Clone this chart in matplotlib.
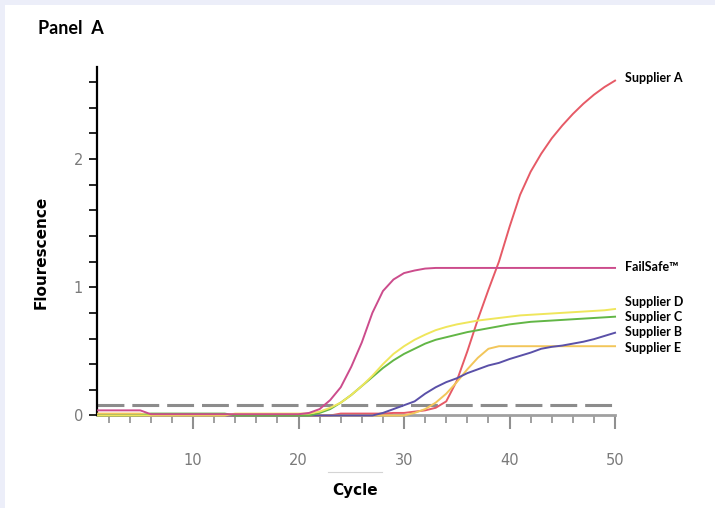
import matplotlib
matplotlib.use("Agg")
import matplotlib.pyplot as plt
from matplotlib.ticker import MultipleLocator
from matplotlib.lines import Line2D
from matplotlib.patches import Rectangle

# PCR cycle number
cycles = list(range(1, 51))

# fluorescence per cycle
failsafe = [0.04, 0.04, 0.04, 0.04, 0.04, 0.01, 0.01, 0.01, 0.01, 0.01,
            0.01, 0.01, 0.01, 0.01, 0.01, 0.01, 0.01, 0.01, 0.01, 0.01,
            0.02, 0.05, 0.12, 0.22, 0.38, 0.57, 0.80, 0.97, 1.06, 1.11,
            1.13, 1.145, 1.15, 1.15, 1.15, 1.15, 1.15, 1.15, 1.15, 1.15,
            1.15, 1.15, 1.15, 1.15, 1.15, 1.15, 1.15, 1.15, 1.15, 1.15]
supplier_a = [0, 0, 0, 0, 0, 0, 0, 0, 0, 0,
              0, 0, 0, 0, 0, 0, 0, 0, 0, 0,
              0, 0, 0, 0.015, 0.015, 0.015, 0.015, 0.015, 0.02, 0.02,
              0.03, 0.04, 0.06, 0.11, 0.27, 0.50, 0.75, 0.98, 1.20, 1.47,
              1.72, 1.90, 2.04, 2.16, 2.26, 2.35, 2.43, 2.50, 2.56, 2.61]
supplier_b = [0, 0, 0, 0, 0, 0, 0, 0, 0, 0,
              0, 0, 0, 0, 0, 0, 0, 0, 0, 0,
              0, 0, 0, 0, 0, 0, 0, 0.02, 0.05, 0.08,
              0.11, 0.17, 0.22, 0.26, 0.29, 0.33, 0.36, 0.39, 0.41, 0.44,
              0.465, 0.49, 0.52, 0.535, 0.545, 0.56, 0.575, 0.595, 0.62, 0.645]
supplier_c = [0, 0, 0, 0, 0, 0.015, 0.015, 0.015, 0.015, 0.015,
              0.015, 0.015, 0.015, 0, 0, 0, 0, 0, 0, 0,
              0, 0.02, 0.05, 0.10, 0.16, 0.23, 0.30, 0.37, 0.43, 0.48,
              0.52, 0.56, 0.59, 0.61, 0.63, 0.65, 0.665, 0.68, 0.695, 0.71,
              0.72, 0.73, 0.735, 0.74, 0.745, 0.75, 0.755, 0.76, 0.765, 0.77]
supplier_d = [0, 0, 0, 0, 0, 0, 0, 0, 0, 0,
              0, 0, 0, 0.015, 0.015, 0.015, 0.015, 0.015, 0.015, 0.015,
              0.015, 0.03, 0.06, 0.10, 0.16, 0.23, 0.31, 0.40, 0.48, 0.54,
              0.59, 0.63, 0.665, 0.69, 0.71, 0.725, 0.74, 0.75, 0.76, 0.77,
              0.78, 0.785, 0.79, 0.795, 0.80, 0.805, 0.81, 0.815, 0.82, 0.83]
supplier_e = [0.015, 0.015, 0.015, 0.015, 0.015, 0, 0, 0, 0, 0,
              0, 0, 0, 0, 0, 0, 0, 0, 0, 0,
              0, 0, 0, 0, 0, 0, 0, 0, 0, 0,
              0.02, 0.05, 0.10, 0.17, 0.26, 0.36, 0.45, 0.52, 0.54, 0.54,
              0.54, 0.54, 0.54, 0.54, 0.54, 0.54, 0.54, 0.54, 0.54, 0.54]
threshold = 0.085

fig = plt.figure(figsize=(7.15, 5.08), dpi=100)
fig.patch.set_facecolor("#eceef9")
fig.add_artist(Rectangle((5 / 715, 0), 1, 503 / 508, transform=fig.transFigure,
                         facecolor="white", edgecolor="none", zorder=0))

ax = fig.add_axes([0.1357, 0.1821, 0.7245, 0.686])
ax.set_facecolor("none")
ax.set_xlim(0.9, 50)
ax.set_ylim(0, 2.716)

ax.axhline(threshold, color="#8c8c8c", lw=2.2, dashes=(8.8, 2.6), zorder=1)

kw = dict(lw=1.4, clip_on=False, zorder=3)
ax.plot(cycles, supplier_a, color="#e65a66", **kw)
ax.plot(cycles, supplier_e, color="#f2c65a", **kw)
ax.plot(cycles, supplier_b, color="#5a50a8", **kw)
ax.plot(cycles, supplier_c, color="#62b646", **kw)
ax.plot(cycles, supplier_d, color="#efe65c", **kw)
ax.plot(cycles, failsafe, color="#cc4c8c", **kw)

for s in ["top", "right"]:
    ax.spines[s].set_visible(False)
ax.spines["left"].set_color("black")
ax.spines["left"].set_linewidth(1.6)
ax.spines["bottom"].set_color("#a0a0a0")
ax.spines["bottom"].set_linewidth(2)
ax.spines["bottom"].set_zorder(2)

ax.xaxis.set_major_locator(MultipleLocator(10))
ax.xaxis.set_minor_locator(MultipleLocator(2))
ax.yaxis.set_major_locator(MultipleLocator(1))
ax.yaxis.set_minor_locator(MultipleLocator(0.2))
ax.tick_params(axis="x", which="major", length=10, width=1.5, color="#909090",
               pad=17, labelsize=10.5, labelcolor="#7a7a7a")
ax.tick_params(axis="x", which="minor", length=6, width=1.2, color="#909090")
ax.tick_params(axis="y", which="both", length=6, width=1.2, color="black",
               pad=4, labelsize=10.5, labelcolor="#7a7a7a")

lab = dict(fontsize=9, fontweight="bold", family=["Lato", "DejaVu Sans"],
           va="center", ha="left", clip_on=False)
ax.text(50.95, 2.63, "Supplier A", **lab)
ax.text(50.95, 1.157, "FailSafe™", **lab)
ax.text(50.95, 0.885, "Supplier D", **lab)
ax.text(50.95, 0.768, "Supplier C", **lab)
ax.text(50.95, 0.65, "Supplier B", **lab)
ax.text(50.95, 0.526, "Supplier E", **lab)

fig.text(38 / 715, 1 - 29 / 508, "Panel  A", fontsize=13, fontweight="bold",
         family=["Lato", "DejaVu Sans"], ha="left", va="center")
fig.text(41 / 715, 1 - 252 / 508, "Flourescence", rotation=90, fontsize=11,
         fontweight="bold", ha="center", va="center")
fig.text(355 / 715, 1 - 491 / 508, "Cycle", fontsize=11, fontweight="bold",
         ha="center", va="center")
fig.add_artist(Line2D([328 / 715, 382 / 715], [1 - 472 / 508, 1 - 472 / 508],
                      transform=fig.transFigure, color="#d4d4d4", lw=0.8))

fig.savefig("out.png", dpi=100)
